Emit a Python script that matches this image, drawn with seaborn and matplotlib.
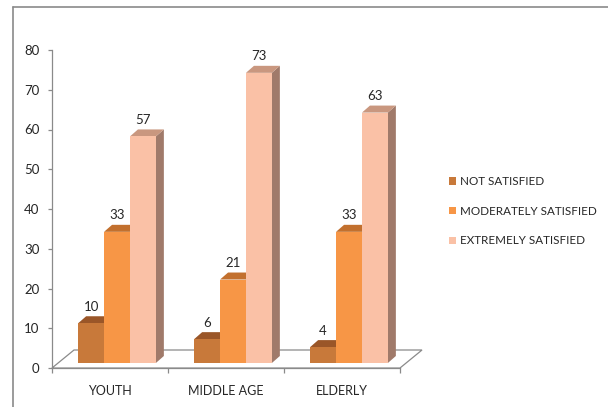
import matplotlib
matplotlib.use("Agg")
import matplotlib.pyplot as plt
from matplotlib.patches import Polygon, Patch
from matplotlib.lines import Line2D
import seaborn as sns
import pandas as pd

categories = ["YOUTH", "MIDDLE AGE", "ELDERLY"]
series = ["NOT SATISFIED", "MODERATELY SATISFIED", "EXTREMELY SATISFIED"]
not_satisfied = [10, 6, 4]
moderately_satisfied = [33, 21, 33]
extremely_satisfied = [57, 73, 63]
y_ticks = [0, 10, 20, 30, 40, 50, 60, 70, 80]

front_colors = ["#C8793A", "#F79646", "#FAC1A6"]
top_colors = ["#9A5628", "#C2702E", "#C9977F"]
side_colors = ["#8E5733", "#B5683A", "#A07A6A"]

sns.set_style("white")
plt.rcParams["font.family"] = ["Lato", "DejaVu Sans"]
txt = "#262626"
grey = "#8A8A8A"
fs = 9.5

rows = []
for s, vals in zip(series, [not_satisfied, moderately_satisfied, extremely_satisfied]):
    for c, v in zip(categories, vals):
        rows.append({"category": c, "series": s, "value": v})
df = pd.DataFrame(rows)

fig = plt.figure(figsize=(6.08, 4.07), dpi=100)
ax = fig.add_axes([52 / 608, (407 - 368) / 407, 348 / 608, 318 / 407])

sns.barplot(data=df, x="category", y="value", hue="series", order=categories,
            hue_order=series, palette=front_colors, width=0.67, ax=ax,
            legend=False, saturation=1, edgecolor="none", linewidth=0)

ax.set_xlim(-0.5, 2.5)
ax.set_ylim(0, 80)

# pixel -> data conversions (axes 348 px wide for 3 units, 318 px tall for 80 units)
pxx = 3 / 348
pxy = 80 / 318
bdx, bdy = 7 * pxx, 5 * pxy      # bar placement inside the 3D floor
ddx, ddy = 8 * pxx, 7 * pxy      # bar depth
fdx, fdy = 22 * pxx, 18 * pxy    # floor depth

# floor
floor = Polygon([(-0.5, 0), (2.5, 0), (2.5 + fdx, fdy), (-0.5 + fdx, fdy)],
                closed=True, facecolor="white", edgecolor=grey, lw=0.9,
                clip_on=False, zorder=1)
ax.add_patch(floor)

bars = []
for si, cont in enumerate(ax.containers):
    for p in cont.patches:
        bars.append((p.get_x(), si, p))

for x0, si, p in sorted(bars, key=lambda t: t[0]):
    z = 5 + x0 * 10
    w = p.get_width()
    h = p.get_height()
    x = x0 + bdx
    p.set_x(x)
    p.set_y(bdy)
    p.set_zorder(z + 0.3)
    base = bdy
    top = bdy + h
    side = Polygon([(x + w, base), (x + w, top), (x + w + ddx, top + ddy), (x + w + ddx, base + ddy)],
                   closed=True, facecolor=side_colors[si], edgecolor="none", zorder=z + 0.1, clip_on=False)
    topf = Polygon([(x, top), (x + w, top), (x + w + ddx, top + ddy), (x + ddx, top + ddy)],
                   closed=True, facecolor=top_colors[si], edgecolor="none", zorder=z + 0.2, clip_on=False)
    ax.add_patch(side)
    ax.add_patch(topf)
    ax.annotate(f"{h:g}", (x + w / 2, top + ddy), xytext=(0, 2.5), textcoords="offset points",
                ha="center", va="bottom", fontsize=fs, color=txt, zorder=50, annotation_clip=False)

# axes styling
for s in ["top", "right"]:
    ax.spines[s].set_visible(False)
for s in ["left", "bottom"]:
    ax.spines[s].set_color(grey)
    ax.spines[s].set_linewidth(0.9)
ax.spines["bottom"].set_zorder(0.5)

ax.set_yticks(y_ticks)
ax.set_yticklabels([str(t) for t in y_ticks], fontsize=fs, color=txt)
ax.tick_params(axis="y", direction="out", length=3, width=0.9, color=grey, pad=6, left=True)
ax.set_xticks([0, 1, 2])
ax.set_xticklabels(categories, fontsize=9, color=txt)
ax.tick_params(axis="x", which="major", length=0, pad=12)
ax.set_xticks([-0.5, 0.5, 1.5, 2.5], minor=True)
ax.tick_params(axis="x", which="minor", direction="out", length=3.5, width=0.9, color=grey, bottom=True)
ax.set_xlabel("")
ax.set_ylabel("")

handles = [Patch(facecolor=c, edgecolor="none", label=l) for c, l in zip(front_colors, series)]
fig.legend(handles=handles, loc="upper left", bbox_to_anchor=(449 / 608, 1 - 176 / 407),
           frameon=False, fontsize=8.4, handlelength=0.6, handleheight=0.6,
           handletextpad=0.35, labelspacing=1.6, borderaxespad=0, borderpad=0,
           labelcolor=txt)

# outer chart frame
fig.add_artist(Line2D([13 / 608, 13 / 608], [0, 1 - 7 / 407], color=grey, lw=1.2))
fig.add_artist(Line2D([13 / 608, 1], [1 - 7 / 407, 1 - 7 / 407], color=grey, lw=1.2))

fig.savefig("out.png", dpi=100)
